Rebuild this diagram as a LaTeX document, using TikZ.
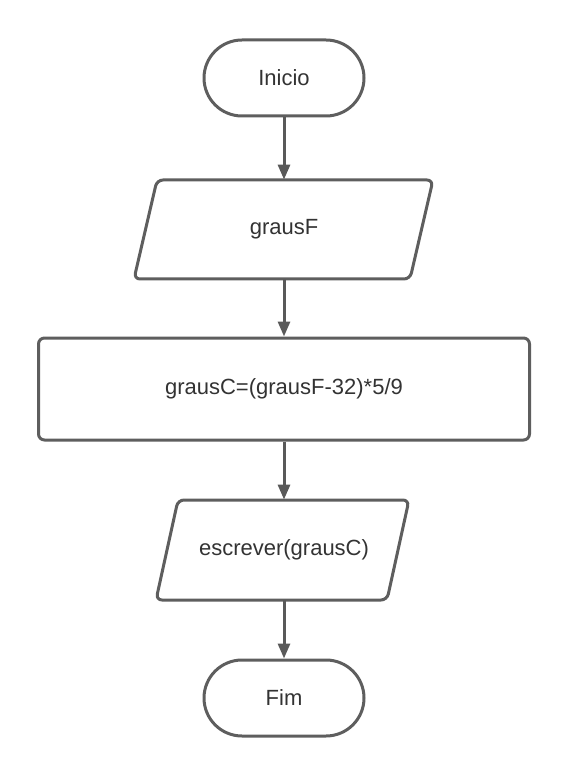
\documentclass[tikz,border=0pt]{standalone}
\usepackage{fontspec}
\setmainfont{Liberation Sans}
\usetikzlibrary{arrows.meta}
\definecolor{lc}{HTML}{5E5E5E}
\definecolor{ac}{HTML}{595959}
\definecolor{tc}{HTML}{333333}
\begin{document}
\begin{tikzpicture}[x=0.5pt,y=-0.5pt,
  shapeline/.style={draw=lc, line width=1.5pt},
  txt/.style={font=\fontsize{11}{13}\selectfont, text=tc, inner sep=0pt},
  term/.style={shapeline, txt, rounded corners=19pt, minimum width=80pt, minimum height=38pt},
  proc/.style={shapeline, txt, rounded corners=3pt, minimum width=245.5pt, minimum height=51pt},
  iobox/.style={txt, minimum height=#1},
  conn/.style={draw=ac, line width=1.5pt, -{Triangle[length=7.5pt,width=6pt]}}
]
\useasboundingbox (0,0) rectangle (569,780);

\node[term] (ini) at (284,78) {Inicio};

\node[iobox=49.5pt] (gf) at (284,229.5) {grausF};
\draw[shapeline, rounded corners=3pt] (157,180) -- (433,180) -- (410,279) -- (134,279) -- cycle;

\node[proc] (calc) at (284,389) {grausC=(grausF-32)*5/9};

\node[iobox=50pt] (out) at (284,550) {escrever(grausC)};
\draw[shapeline, rounded corners=3pt] (178,500) -- (409,500) -- (387,600) -- (156,600) -- cycle;

\node[term] (fim) at (284,698) {Fim};

\draw[conn] (ini.south) -- (gf.north);
\draw[conn] (gf.south) -- (calc.north);
\draw[conn] (calc.south) -- (out.north);
\draw[conn] (out.south) -- (fim.north);
\end{tikzpicture}
\end{document}
